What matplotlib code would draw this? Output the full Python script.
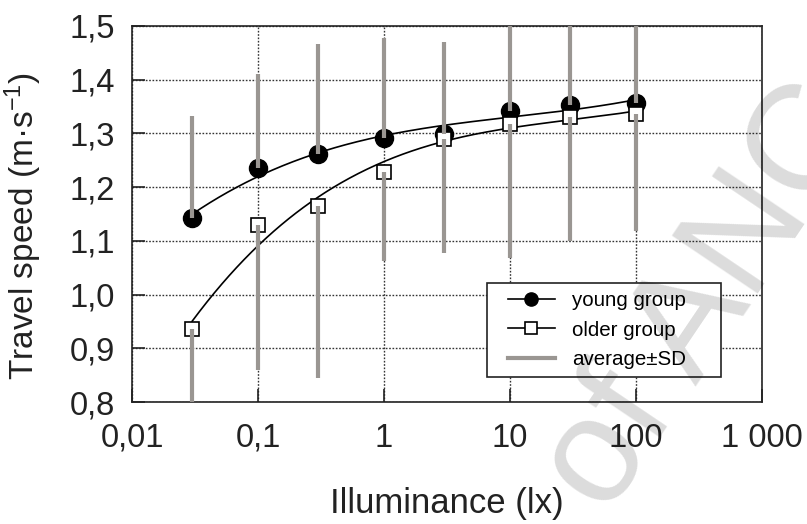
import numpy as np
import matplotlib
matplotlib.use("Agg")
import matplotlib.pyplot as plt
from matplotlib.lines import Line2D
from matplotlib.legend_handler import HandlerLine2D

plt.rcParams['font.family'] = ['Liberation Sans', 'DejaVu Sans']
plt.rcParams['mathtext.fontset'] = 'custom'
plt.rcParams['mathtext.rm'] = 'Liberation Sans'
plt.rcParams['mathtext.it'] = 'Liberation Sans:italic'

# illuminance levels (lx) and travel speeds (m/s)
lux = [0.03, 0.1, 0.3, 1, 3, 10, 30, 100]
young_mean = [1.142, 1.236, 1.262, 1.292, 1.299, 1.341, 1.352, 1.357]
young_sd = [0.19, 0.174, 0.204, 0.185, 0.171, 0.19, 0.18, 0.17]
older_mean = [0.936, 1.129, 1.165, 1.228, 1.290, 1.318, 1.330, 1.337]
older_sd = [0.20, 0.269, 0.321, 0.166, 0.213, 0.25, 0.23, 0.219]

x_ticks = [0.01, 0.1, 1, 10, 100, 1000]
x_labels = ['0,01', '0,1', '1', '10', '100', '1 000']
y_ticks = [0.8, 0.9, 1.0, 1.1, 1.2, 1.3, 1.4, 1.5]
y_labels = ['0,8', '0,9', '1,0', '1,1', '1,2', '1,3', '1,4', '1,5']

bar_col = '#9a9692'
ink = '#222222'

fig = plt.figure(figsize=(8.07, 5.24), dpi=100)
ax = fig.add_axes([0.1636, 0.2328, 0.7807, 0.7176])

x = np.array(lux)
ym = np.array(young_mean)
om = np.array(older_mean)

# trend curves: cubic fit in log10(lux)
xf = np.logspace(np.log10(x[0]), np.log10(x[-1]), 300)
for m in (ym, om):
    c = np.polyfit(np.log10(x), m, 3)
    ax.plot(xf, np.polyval(c, np.log10(xf)), color='black', lw=1.2, zorder=2)

ax.plot(x, ym, 'o', ms=13, color='black', zorder=3)
ax.plot(x, om, 's', ms=9.5, mfc='white', mec='black', mew=1.2, zorder=3)

# young: +SD upward, older: -SD downward
ax.vlines(x, ym, ym + np.array(young_sd), color=bar_col, lw=3, zorder=4)
ax.vlines(x, om - np.array(older_sd), om, color=bar_col, lw=3, zorder=4)

ax.set_xscale('log')
ax.set_xlim(0.01, 1000)
ax.set_ylim(0.8, 1.5)
ax.set_xticks(x_ticks)
ax.set_xticklabels(x_labels)
ax.xaxis.set_minor_locator(matplotlib.ticker.NullLocator())
ax.set_yticks(y_ticks)
ax.set_yticklabels(y_labels)
ax.tick_params(direction='in', length=9.5, width=1.2, labelsize=23.5, colors=ink)
ax.tick_params(axis='x', pad=15)
ax.tick_params(axis='y', pad=12)
ax.grid(True, linestyle=(0, (1.2, 1.2)), color='#333333', lw=1, zorder=0.5)
ax.set_axisbelow(True)
for s in ax.spines.values():
    s.set_linewidth(1.2)
    s.set_color(ink)

ax.set_xlabel('Illuminance (lx)', fontsize=25, labelpad=24, color=ink)
ax.set_ylabel('Travel speed (m·s$^{-1}$)', fontsize=24, color=ink)
ax.yaxis.set_label_coords(-0.14, 0.468)

handles = [
    Line2D([], [], color='black', lw=1.2, marker='o', ms=9.5),
    Line2D([], [], color='black', lw=1.2, marker='s', ms=8.5, mfc='white', mew=1.2),
    Line2D([], [], color=bar_col, lw=3),
]
leg = ax.legend(handles, ['young group', 'older group', 'average±SD'],
                loc='lower left', bbox_to_anchor=(0.5635, 0.0665, 0.3714, 0.25),
                mode='expand', borderaxespad=0,
                fontsize=14.8, frameon=True, fancybox=False, framealpha=1,
                edgecolor=ink, handlelength=2.9, handletextpad=0.85,
                labelspacing=0.5, borderpad=0.4,
                handler_map={Line2D: HandlerLine2D(xpad=0.6)})
leg.get_frame().set_linewidth(1.2)
leg.set_zorder(6)

# faint diagonal watermark
fig.text(0.752, 0.012, 'of ANC', fontsize=108, rotation=56,
         rotation_mode='anchor', ha='left', va='baseline', color='black',
         alpha=0.14, zorder=10)

fig.savefig('out.png', dpi=100)
